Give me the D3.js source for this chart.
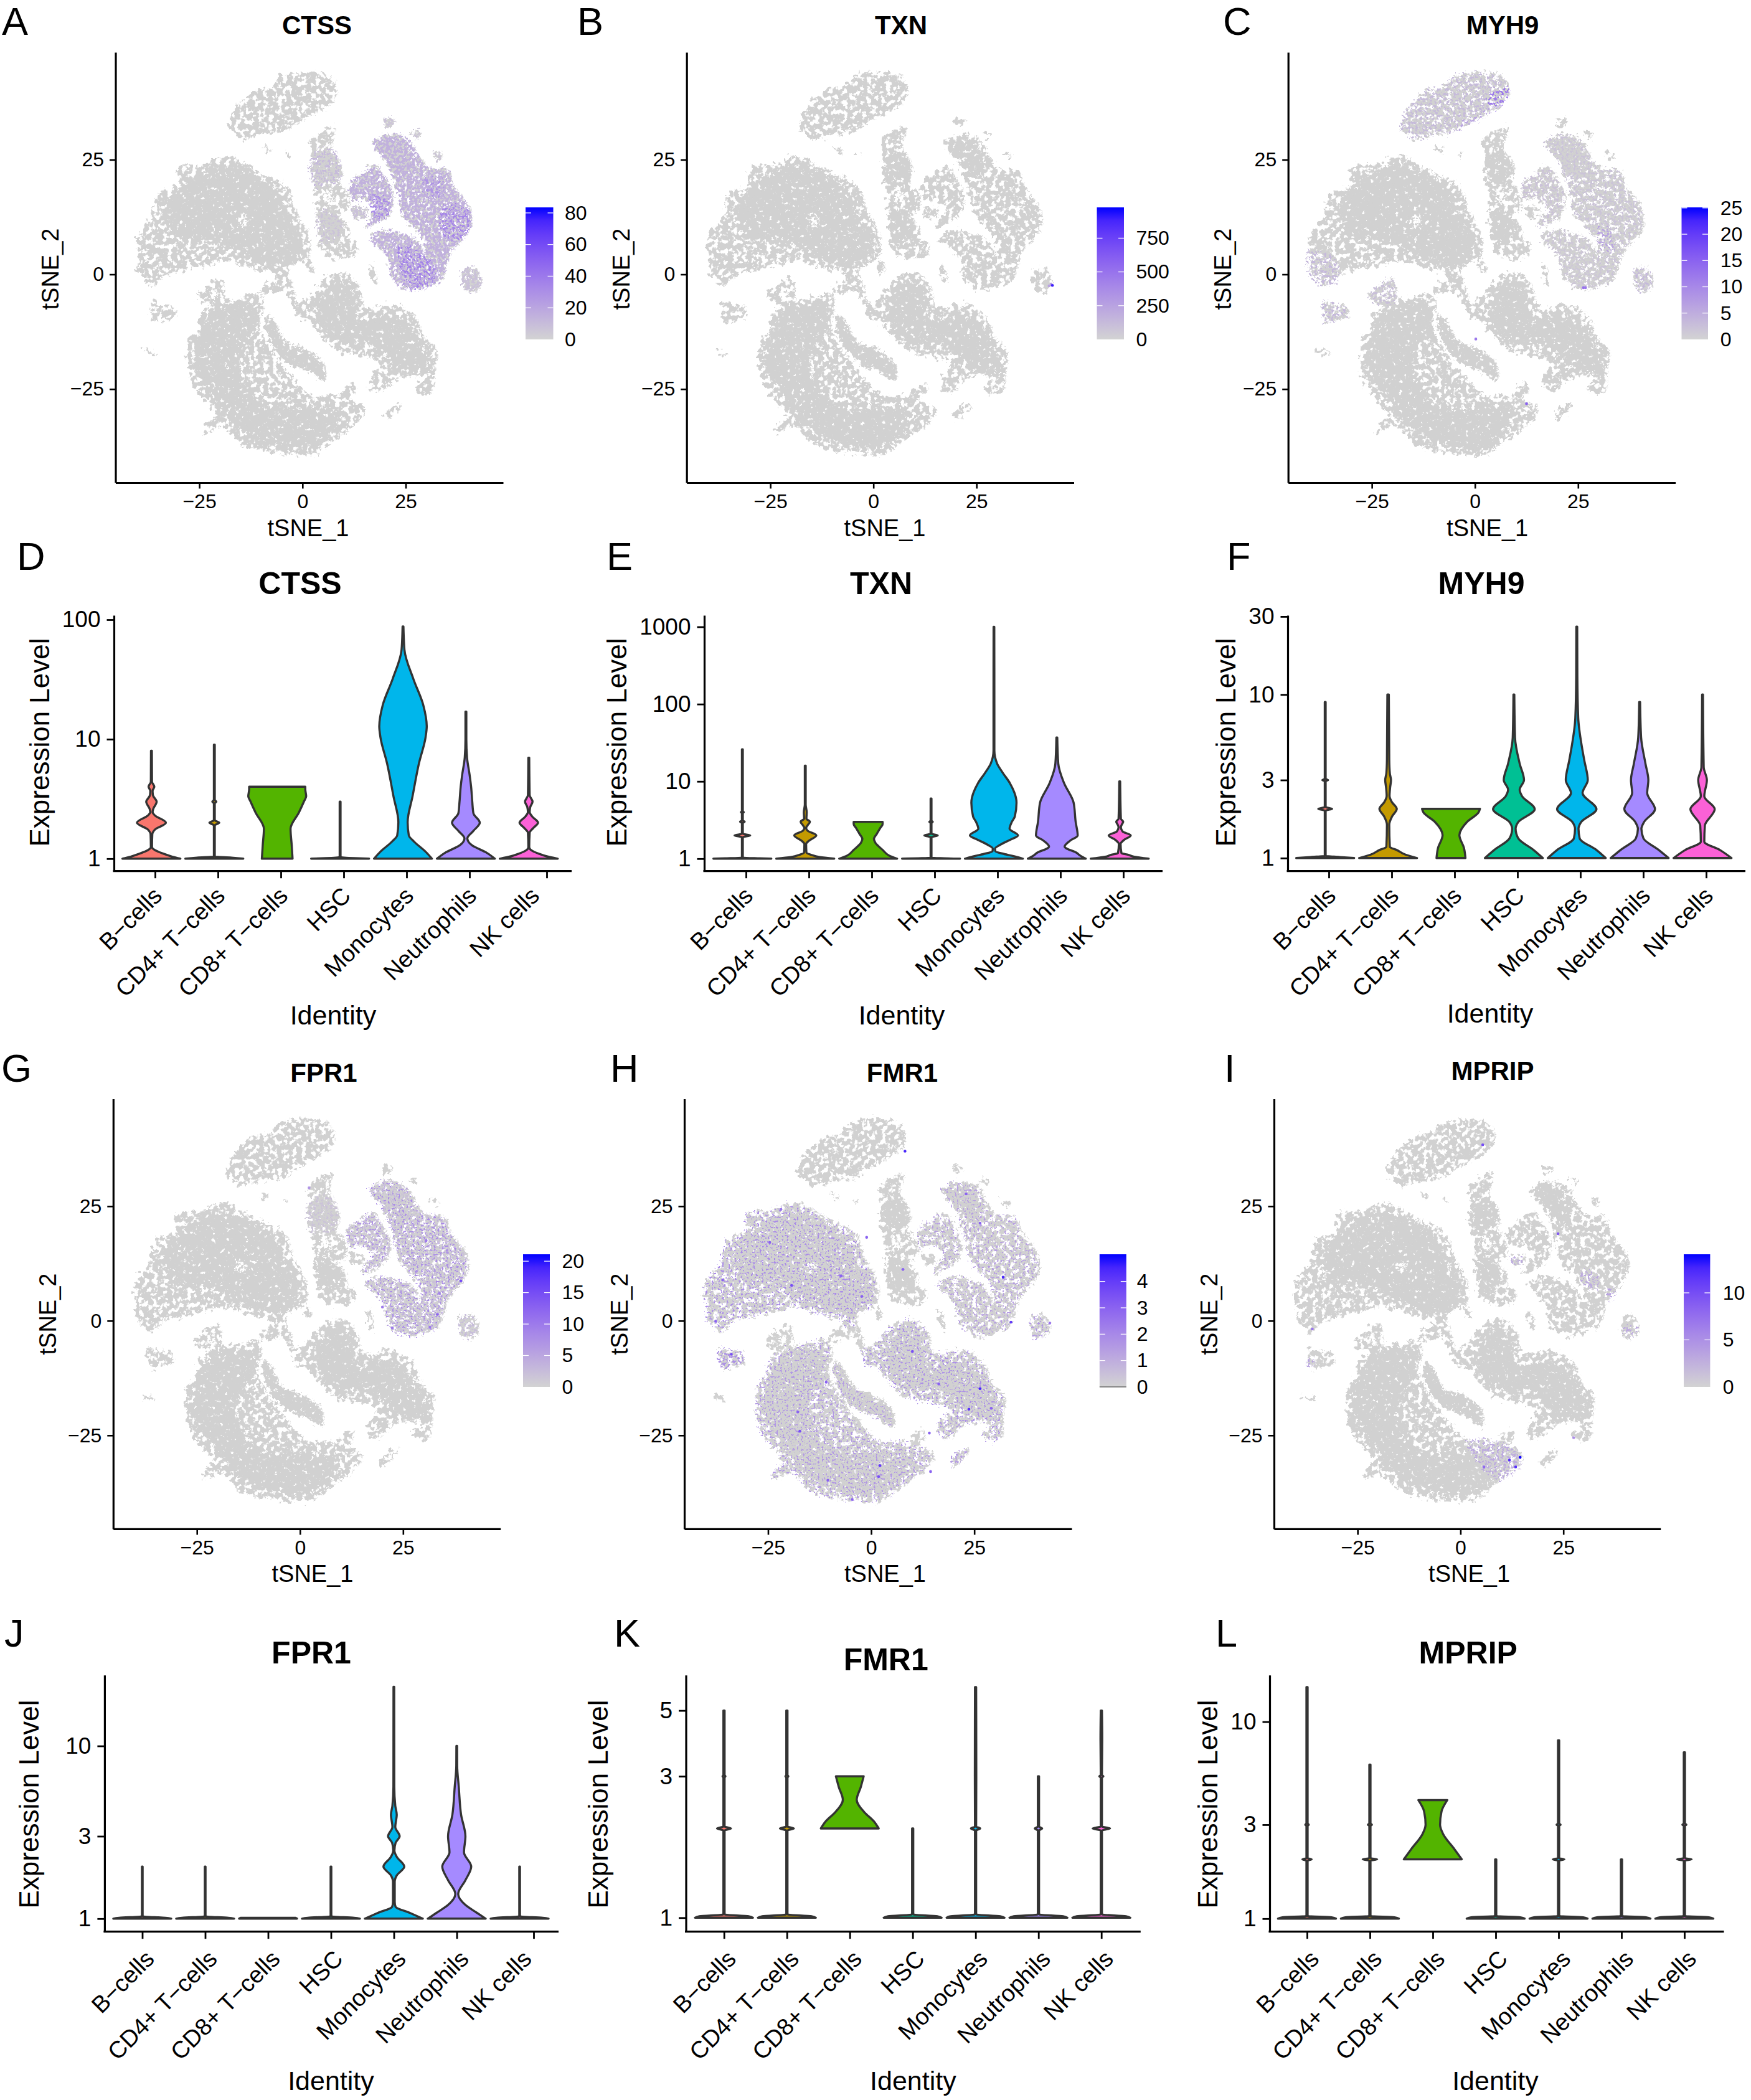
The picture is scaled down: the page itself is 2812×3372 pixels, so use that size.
<!DOCTYPE html>
<html>
<head>
<meta charset="utf-8">
<title>t-SNE and violin panels</title>
<script src="https://cdn.jsdelivr.net/npm/d3@7"></script>
<style>
  html, body { margin: 0; background: #fff; }
  svg { display: block; font-family: "Liberation Sans", Arial, sans-serif; }
</style>
</head>
<body>
<svg id="figure" width="2812" height="3372"></svg>
<script>
/* Categories and tick labels */
const identities = ['B\u2212cells', 'CD4+ T\u2212cells', 'CD8+ T\u2212cells', 'HSC', 'Monocytes', 'Neutrophils', 'NK cells'];
const identityColors = ['#F8766D', '#C49A00', '#53B400', '#00C094', '#00B6EB', '#A58AFF', '#FB61D7'];
const tsneTicks = [-25, 0, 25];

/* Cluster outlines, in tSNE units */
const topCluster = [[-17.8, 31.6], [-16.5, 35.4], [-14.6, 37.7], [-11, 40.2], [-7.4, 40.8], [-5.1, 43], [-0.1, 44], [5.4, 43.7], [8.1, 41.5], [8.4, 38.9], [5.4, 36.2], [-0.1, 33.5], [-3.7, 31.5], [-9.2, 30.5], [-14.6, 29.5], [-16.5, 31.2]];
const leftCluster = [[-40.3, 6.5], [-39.6, 8.8], [-36.5, 12.6], [-34.6, 17.9], [-30.1, 19.4], [-30.1, 23.2], [-23.7, 24], [-18.3, 25.9], [-14.6, 24.4], [-9.2, 21.7], [-5.1, 20.2], [-2.8, 17.9], [-1.5, 14.1], [0.8, 10.3], [2, 7.2], [1.3, 3.4], [-2.8, 1.9], [-3.7, -1.9], [-6, -1.1], [-7.4, 0.4], [-11, 1.1], [-18.3, 3], [-23.7, 1.9], [-29.2, 0.8], [-32.8, 0], [-36.5, -2.5], [-37.8, -1.1], [-39.6, 0.4], [-39.6, 3.4]];
const bottomCluster = [[-10.1, -4.2], [-9.2, -7.2], [-10.1, -11], [-7.4, -16.4], [-3.7, -21], [2.6, -26.3], [7.2, -26.3], [12.6, -27.8], [15.4, -29.3], [14.5, -31.3], [9, -35.4], [2.6, -39.3], [-1.9, -39.3], [-9.2, -38.5], [-14.6, -37], [-19.2, -33.2], [-23.7, -34.7], [-22.4, -32], [-21, -30.9], [-26.5, -24], [-27.6, -18.7], [-26.9, -13.3], [-25.1, -12.6], [-24.6, -8.8], [-21, -6.5], [-14.6, -5]];
const sliverCluster = [[-8.7, -9.1], [-7.4, -9.5], [-3.7, -14.9], [0.8, -16.4], [5.2, -19.5], [5.4, -22.9], [1.7, -21], [-2.8, -19.5], [-6.5, -16.4], [-8.7, -11.9]];
const lowerRightCluster = [[1.7, -4.9], [5.4, -1.1], [9.9, 0.4], [13.5, -1.9], [15.8, -7.2], [21.7, -6.5], [27.2, -8.8], [29.9, -14.1], [32.6, -16.4], [32.2, -21], [31.7, -25.5], [29.9, -26.3], [27.2, -24.8], [29.9, -22.5], [23.5, -22.5], [19, -25.5], [16.7, -25.1], [16.7, -22.5], [19, -19.5], [15.4, -18], [9, -16.8], [5.4, -14.1], [1.7, -10.3], [-1, -9.5], [-1.9, -7.2]];
const connectorA = [[-3.7, -0.4], [-2.4, -1.9], [-4.6, -3.4], [-7.4, -4.2], [-9.6, -4.2], [-9.2, -2.3], [-6, -1.1]];
const connectorB = [[-2.8, -1.9], [-1, -6.5], [0.8, -9.5], [-0.1, -9.9], [-2.8, -5.7], [-4.2, -2.7]];
const ringCluster = [[-25.5, -5], [-22.4, -1.9], [-19.6, -0.8], [-18.7, -5], [-19.2, -6.5], [-22.8, -6.5]];
const smallLeftCluster = [[-36.6, -6.1], [-34.2, -6.5], [-31, -7.2], [-30.5, -9.1], [-32.8, -9.9], [-36, -10.3], [-36.7, -8.4]];
const streakLeft = [[-38.3, -16.2], [-35.1, -17.1], [-35.1, -17.5], [-38.3, -16.8]];
const bitBottomRight = [[19.5, -30.9], [21.7, -28.6], [24, -28.2], [21.7, -30.9], [19.9, -31.5]];
const bitBottomMid = [[9.5, -26.3], [11.3, -24], [13.1, -23.9], [12.6, -26.3], [10.4, -27.1]];
const midCluster = [[2.2, 29.3], [8.1, 32.1], [7.2, 28.1], [9.9, 22.5], [9, 20.2], [11.3, 17.1], [11.3, 14.1], [9, 12.9], [11.3, 10.3], [11.8, 7.2], [13.5, 6.5], [13.1, 4.2], [9, 3.4], [5, 4.9], [4, 8.8], [3.5, 14.1], [3.5, 17.1], [2.2, 21.7], [2.6, 26.3]];
const rightBand = [[17.2, 28.6], [21.7, 30.5], [26.3, 29], [28.5, 25.5], [30.8, 23.2], [35.4, 22.5], [36.7, 19.4], [38.5, 17.1], [40.8, 14.1], [41, 10.7], [38.5, 7.2], [36.3, 5], [34.9, 1.1], [33.5, -1.5], [30.8, -1.9], [29.9, 3.4], [30, 6.5], [28, 9.5], [24.5, 13], [23, 18.7], [20.8, 24], [19, 26.3]];
const rightBlob = [[16.3, 8], [19.9, 9.6], [23.5, 9], [27, 8], [29.9, 4.2], [31.3, -1.9], [26.3, -3.3], [22.2, -1.1], [20.4, 4.2]];
const rightWing = [[11.9, 20.2], [14.5, 21.7], [17.6, 23.6], [20.8, 20.2], [22.2, 17.1], [21.3, 13.3], [18.1, 11.1], [15.4, 10.3], [16.7, 12.6], [18.1, 14.1], [15.4, 16.4], [12.2, 16.4]];
const rightBit = [[12.2, 14.5], [15.8, 14.1], [15.4, 12.4], [12.6, 12.6]];
const topBitA = [[19.9, 33.8], [22.6, 33.5], [21.3, 32], [20.1, 32.4]];
const topBitB = [[26.5, 30.9], [28.8, 31], [28.1, 29.7]];
const topBitC = [[31.7, 26.7], [34, 25.9], [33.1, 24.8]];
const farRightCluster = [[39, 0.8], [42.2, 1.1], [43.5, -2.3], [40.4, -4], [39.2, -2.7]];
const streakMid = [[16.3, 2.3], [17.2, 1.9], [18.1, -1.9], [17.2, -1.8]];
const crumbA = [[-9.5, 28], [-7.5, 27], [-8, 26.5], [-9.3, 27]];
const crumbB = [[-3.7, 26.7], [-2.8, 26], [-3.5, 25.6]];
const crumbC = [[1.8, 3], [3, 1.2], [2, 0.4], [1, 2]];

const allClusters = [topCluster, leftCluster, bottomCluster, sliverCluster, lowerRightCluster, connectorA, connectorB, ringCluster, smallLeftCluster, streakLeft, bitBottomRight, bitBottomMid, midCluster, rightBand, rightBlob, rightWing, rightBit, topBitA, topBitB, topBitC, farRightCluster, streakMid, crumbA, crumbB, crumbC];

/* Regions where the cells sit close together */
const coreLeft = [[-33, 15], [-28, 20], [-20, 23.5], [-12, 22], [-6, 18], [-3, 12], [0, 8], [-1, 3], [-6, 1.5], [-12, 3], [-18, 6], [-24, 8], [-30, 8]];
const coreBottom = [[-25, -13], [-22, -8], [-15, -6], [-11, -7], [-11, -12], [-15, -17], [-14, -24], [-8, -29], [0, -29], [8, -30], [8, -34], [1, -38], [-8, -37], [-15, -34], [-21, -27], [-26, -20]];
const coreLowerRight = [[4, -7], [8, -1.5], [12, -3], [14, -10], [20, -9], [26, -11], [30, -17], [31, -21], [25, -21], [17, -15], [10, -15], [5, -12]];
const coreMid = [[4, 26], [8, 26], [9, 22], [4, 20]];
const coreMidLow = [[4.5, 14], [9, 12.5], [9.5, 8], [5.5, 7]];
const coreRight = [[18, 28], [24, 29], [27, 24], [25, 21], [22, 24]];
const denseCores = [coreLeft, coreBottom, coreLowerRight, coreMid, coreMidLow, coreRight, sliverCluster];

const ringHole = [[-22.6, -4.5], [-21, -3], [-20.2, -4.5], [-21.5, -5.2]];
const midHole = [[6.2, 18.6], [7.8, 17], [7.2, 15.4], [5.6, 15.8], [5.4, 17.6]];
const leftGap = [[-15.6, 12], [-13.6, 12.8], [-13, 11], [-14.8, 10.6]];
const clusterHoles = [ringHole, midHole, leftGap];

/* Expression: [outline, level, density] patches and [x, y, level] cells */
const midUpper = [[2.6, 26], [8, 27], [10, 22], [9, 20], [3, 19.5]];
const midLower = [[4, 14], [9, 13], [10, 9], [5, 7]];
const ctssPatches = [
  [rightBand, 15, 'dense'], [rightBlob, 15, 'dense'], [rightWing, 15, 'dense'], [rightBit, 8, 'dense'], [topBitA, 7, 'dense'], [topBitB, 6, 'dense'], [topBitC, 6, 'dense'],
  [midUpper, 11, 'patchy'], [midLower, 7, 'patchy'], [farRightCluster, 8, 'dense'],
  [[[24, 6], [29, 5], [33, 1], [32, -2], [26, -3], [24, 1]], 36, 'patchy'],
  [[[34.5, 15], [40.5, 14], [41, 10], [38, 7], [34, 9]], 34, 'patchy'],
  [[[17, 17], [21.5, 16.5], [21, 12.6], [17.5, 12.6]], 32, 'patchy'],
  [[[30, 21], [34.5, 20.5], [34, 17], [30, 17.5]], 28, 'patchy']
];
const ctssCells = [];
const txnPatches = [];
const txnCells = [[43.1, -2.1, 300], [43.4, -2.4, 900], [42.6, -2.5, 250]];
const myh9Patches = [
  [topCluster, 3.2, 'patchy'],
  [[[3, 38], [8.4, 41], [8.4, 38.5], [5, 36]], 12, 'patchy'],
  [[[-4, 31.5], [5, 35.8], [5.2, 36.5], [-3, 33]], 6, 'patchy'],
  [[[-40, 5], [-33, 3], [-33, -2], [-37, -2.5], [-40, 0]], 3.5, 'patchy'],
  [smallLeftCluster, 3.5, 'patchy'], [rightBand, 2, 'patchy'], [rightBlob, 1.6, 'patchy'], [rightWing, 2.2, 'patchy'],
  [[[30, 10], [33, 10], [34, 5], [31, 6]], 6, 'patchy'], [farRightCluster, 3.5, 'patchy'], [ringCluster, 2.5, 'patchy']
];
const myh9Cells = [[26.3, -2.9, 13], [26.8, -2.9, 12], [0.2, -14.1, 12], [12.5, -28.2, 15]];
const fpr1Patches = [
  [rightBand, 2, 'patchy'], [rightBlob, 2, 'patchy'], [rightWing, 2, 'patchy'], [midUpper, 1.8, 'patchy'], [farRightCluster, 2.5, 'patchy'],
  [rightBand, 8, 'sparse'], [rightBlob, 8, 'sparse'], [rightWing, 7, 'sparse']
];
const fpr1Cells = [[39, 8.7, 15], [30.6, 17.5, 10], [33.3, 1.4, 12], [22.4, -1.6, 10], [20, 3, 10], [33.8, 6, 9], [2.2, 29, 7], [31.5, -1.4, 10]];
const fmr1Patches = [
  [leftCluster, 1.9, 'sparse'], [bottomCluster, 1.6, 'sparse'], [lowerRightCluster, 1.8, 'sparse'], [sliverCluster, 1.5, 'sparse'],
  [smallLeftCluster, 1.8, 'patchy'], [rightBand, 1.4, 'sparse'], [rightBlob, 1.4, 'sparse'], [rightWing, 1.4, 'sparse'], [farRightCluster, 1.6, 'sparse'], [bitBottomRight, 1.4, 'patchy']
];
const fmr1Cells = [[32, 9.5, 4.5], [23.7, -19.3, 4.2], [2.1, -31.6, 4], [-19.3, 7.7, 3.5], [33.9, -0.3, 4], [1.8, -34, 3.5], [-17.3, -24.1, 3.5], [-33.9, -7.3, 3.5], [14.4, -32.9, 3], [8.2, 37, 4.5], [-1.1, 18.2, 3], [10, -6.7, 3.5], [26.4, -14.8, 4.5], [14.1, -24.5, 3], [23, 27.7, 3], [26.4, 21.3, 3], [43.3, -0.5, 2.5], [7.7, 11.2, 3], [-37.7, -0.1, 3], [-36, 8.9, 3], [-21.9, 24.3, 2.5], [-10.9, -13.4, 3], [-17.8, -19.9, 3], [-10.5, -34.8, 3], [-4.6, -39, 3], [16.4, -13.8, 3], [29.1, -19.1, 3], [-7.3, 9.8, 3], [-24.6, 17.1, 3], [-2.3, 5.3, 3]];
const mpripPatches = [
  [[[1.8, -26.4], [11.9, -27.1], [15.4, -30.6], [10.1, -34.8], [5.7, -32.1]], 3, 'patchy'],
  [[[29.4, 10.6], [33.8, 9.8], [33.8, 6.8], [30.3, 7.9]], 3, 'patchy'],
  [[[36, 6.8], [38, 6.8], [37.3, 4.3], [36, 4.9]], 3.5, 'patchy'],
  [[[-36.9, -8.5], [-35.1, -8.5], [-35.1, -10], [-36.9, -10]], 3.5, 'patchy'],
  [[[40, -1.6], [43.7, -1.6], [42.6, -3.5], [40.4, -3.5]], 3, 'patchy'],
  [[[12.6, 13.6], [15.6, 13.6], [15.4, 12.3], [12.7, 12.3]], 3, 'patchy']
];
const mpripCells = [[14.5, -29.8, 14], [11.9, -30.4, 12], [13.4, -31.9, 12], [5.7, -31.9, 8], [5.4, 38.4, 10], [23.7, 19, 9], [-36, -1.8, 7], [27.5, -25.5, 5]];

/* Violin profiles: [expression level, relative half width], one list per identity */
const ctssViolins = [
  [[1, 1], [1.04, 0.72], [1.1, 0.42], [1.18, 0.12], [1.25, 0.02], [1.6, 0.03], [1.75, 0.12], [2, 0.5], [2.3, 0.12], [2.45, 0.04], [2.6, 0.06], [3, 0.18], [3.4, 0.05], [3.7, 0.04], [4, 0.1], [4.4, 0.02], [8, 0.015]],
  [[1, 1], [1.02, 0.6], [1.04, 0.015], [1.9, 0.015], [2, 0.17], [2.1, 0.015], [2.9, 0.015], [3, 0.07], [3.1, 0.015], [9, 0.015]],
  [[1, 0.53], [1.3, 0.5], [1.78, 0.46], [2.44, 0.75], [3, 0.92], [3.33, 1], [3.8, 0.97], [4, 0.97]],
  [[1, 1], [1.01, 0.5], [1.03, 0.015], [2, 0.015], [3, 0.015]],
  [[1, 1], [1.15, 0.77], [1.39, 0.38], [1.57, 0.2], [2.02, 0.16], [3.33, 0.33], [6.26, 0.55], [10.4, 0.78], [12.8, 0.82], [19.3, 0.7], [31.8, 0.36], [56, 0.05], [87.6, 0.015]],
  [[1, 1], [1.12, 0.72], [1.3, 0.2], [1.48, 0.05], [1.7, 0.25], [2, 0.48], [2.4, 0.26], [3, 0.22], [4, 0.18], [5, 0.13], [7, 0.04], [10, 0.015], [17, 0.015]],
  [[1, 1], [1.05, 0.6], [1.1, 0.35], [1.18, 0.08], [1.25, 0.015], [1.65, 0.03], [1.8, 0.15], [2, 0.32], [2.25, 0.12], [2.45, 0.03], [2.7, 0.05], [3, 0.13], [3.4, 0.03], [7, 0.015]]
];
const txnViolins = [
  [[1, 1], [1.01, 0.6], [1.03, 0.015], [1.9, 0.015], [2, 0.27], [2.1, 0.015], [2.9, 0.015], [3, 0.08], [3.1, 0.015], [3.9, 0.015], [4, 0.05], [4.1, 0.015], [26, 0.015]],
  [[1, 1], [1.05, 0.5], [1.12, 0.2], [1.2, 0.04], [1.55, 0.03], [1.7, 0.12], [2, 0.38], [2.3, 0.08], [2.5, 0.03], [2.7, 0.08], [3, 0.16], [3.3, 0.04], [4, 0.05], [5, 0.015], [16, 0.015]],
  [[1, 1], [1.1, 0.72], [1.3, 0.5], [1.6, 0.25], [1.8, 0.2], [2.1, 0.3], [2.5, 0.42], [2.8, 0.5], [3, 0.5]],
  [[1, 1], [1.03, 0.015], [1.9, 0.015], [2, 0.23], [2.1, 0.015], [2.9, 0.015], [3, 0.06], [3.1, 0.015], [6, 0.015]],
  [[1, 1], [1.07, 0.72], [1.15, 0.35], [1.25, 0.05], [1.35, 0.04], [1.5, 0.2], [1.75, 0.55], [2, 0.83], [2.44, 0.54], [3, 0.62], [3.5, 0.72], [5.3, 0.78], [9.5, 0.55], [13, 0.3], [17, 0.11], [25, 0.015], [100, 0.015], [1000, 0.012]],
  [[1, 1], [1.1, 0.8], [1.18, 0.7], [1.43, 0.27], [1.7, 0.45], [2, 0.72], [3, 0.65], [5.3, 0.58], [9.5, 0.25], [17, 0.05], [37, 0.015]],
  [[1, 1], [1.06, 0.5], [1.12, 0.3], [1.18, 0.06], [1.55, 0.03], [1.75, 0.15], [2, 0.38], [2.25, 0.1], [2.55, 0.04], [2.8, 0.08], [3, 0.12], [3.3, 0.04], [10, 0.015]]
];
const myh9Violins = [
  [[1, 1], [1.015, 0.5], [1.03, 0.015], [1.95, 0.015], [2, 0.24], [2.05, 0.015], [2.95, 0.015], [3, 0.1], [3.05, 0.015], [9, 0.015]],
  [[1, 1], [1.05, 0.6], [1.12, 0.3], [1.17, 0.06], [1.6, 0.04], [1.8, 0.14], [2, 0.3], [2.2, 0.13], [2.4, 0.05], [2.7, 0.07], [3, 0.1], [3.3, 0.06], [4, 0.04], [10, 0.025]],
  [[1, 0.5], [1.15, 0.45], [1.38, 0.29], [1.66, 0.55], [1.9, 0.95], [2, 1]],
  [[1, 1], [1.12, 0.68], [1.32, 0.15], [1.51, 0.06], [1.66, 0.15], [1.99, 0.72], [2.39, 0.28], [2.62, 0.2], [3, 0.35], [3.78, 0.2], [5.46, 0.04], [10, 0.015]],
  [[1, 1], [1.12, 0.68], [1.32, 0.1], [1.51, 0.06], [1.66, 0.15], [1.99, 0.68], [2.5, 0.2], [3, 0.38], [3.96, 0.26], [4.75, 0.18], [7.2, 0.05], [13, 0.02], [26, 0.015]],
  [[1, 1], [1.12, 0.66], [1.32, 0.13], [1.51, 0.06], [1.66, 0.15], [1.99, 0.53], [2.5, 0.26], [3, 0.3], [3.78, 0.2], [5.46, 0.05], [9, 0.015]],
  [[1, 1], [1.12, 0.6], [1.26, 0.06], [1.58, 0.08], [1.99, 0.42], [2.39, 0.06], [3, 0.15], [3.6, 0.04], [10, 0.015]]
];
const fpr1Violins = [
  [[1, 1], [1.012, 0.8], [1.03, 0.012], [2, 0.012]],
  [[1, 1], [1.012, 0.8], [1.03, 0.012], [2, 0.012]],
  [[1, 1], [1.012, 0.95]],
  [[1, 1], [1.012, 0.8], [1.03, 0.012], [2, 0.012]],
  [[1, 1], [1.08, 0.55], [1.17, 0.06], [1.25, 0.03], [1.64, 0.03], [1.78, 0.1], [2, 0.36], [2.28, 0.1], [2.48, 0.02], [2.75, 0.06], [3, 0.2], [3.4, 0.05], [4, 0.1], [4.5, 0.05], [5.8, 0.015], [22, 0.012]],
  [[1, 1], [1.08, 0.7], [1.2, 0.3], [1.39, 0.05], [1.67, 0.3], [2, 0.5], [2.42, 0.25], [3, 0.3], [4, 0.15], [5.8, 0.07], [7.7, 0.015], [10, 0.012]],
  [[1, 1], [1.012, 0.8], [1.03, 0.012], [2, 0.012]]
];
const fmr1Violins = [
  [[1, 1], [1.012, 0.85], [1.025, 0.02], [1.97, 0.02], [2, 0.24], [2.03, 0.02], [2.97, 0.02], [3, 0.05], [3.03, 0.02], [5, 0.02]],
  [[1, 1], [1.012, 0.85], [1.025, 0.02], [1.97, 0.02], [2, 0.24], [2.03, 0.02], [2.97, 0.02], [3, 0.05], [3.03, 0.02], [5, 0.02]],
  [[2, 1], [2.12, 0.82], [2.27, 0.5], [2.5, 0.24], [2.76, 0.38], [3, 0.48]],
  [[1, 1], [1.012, 0.85], [1.025, 0.02], [2, 0.02]],
  [[1, 1], [1.012, 0.85], [1.025, 0.02], [1.97, 0.02], [2, 0.16], [2.03, 0.02], [3, 0.025], [6, 0.02]],
  [[1, 1], [1.012, 0.85], [1.025, 0.02], [1.97, 0.02], [2, 0.13], [2.03, 0.02], [3, 0.02]],
  [[1, 1], [1.012, 0.85], [1.025, 0.02], [1.97, 0.02], [2, 0.3], [2.03, 0.02], [2.97, 0.02], [3, 0.07], [3.03, 0.02], [4, 0.03], [5, 0.02]]
];
const mpripViolins = [
  [[1, 1], [1.015, 0.85], [1.03, 0.02], [1.97, 0.02], [2, 0.16], [2.03, 0.02], [2.96, 0.02], [3, 0.06], [3.04, 0.02], [15, 0.02]],
  [[1, 1], [1.015, 0.85], [1.03, 0.02], [1.97, 0.02], [2, 0.25], [2.03, 0.02], [2.96, 0.02], [3, 0.07], [3.04, 0.02], [6.06, 0.02]],
  [[2, 1], [2.25, 0.75], [2.7, 0.35], [3, 0.25], [3.5, 0.3], [4, 0.5]],
  [[1, 1], [1.015, 0.85], [1.03, 0.02], [2, 0.02]],
  [[1, 1], [1.015, 0.85], [1.03, 0.02], [1.97, 0.02], [2, 0.2], [2.03, 0.02], [2.96, 0.02], [3, 0.07], [3.04, 0.02], [8.05, 0.02]],
  [[1, 1], [1.015, 0.85], [1.03, 0.02], [2, 0.02]],
  [[1, 1], [1.015, 0.85], [1.03, 0.02], [1.97, 0.02], [2, 0.25], [2.03, 0.02], [2.96, 0.02], [3, 0.07], [3.04, 0.02], [7, 0.02]]
];

/* Local constants */
const X_LIMITS = [-45.3, 48.6];
const Y_LIMITS = [-45.4, 48.4];
const VIOLIN_HALF_WIDTH = 46.5;
const INK = '#333333';
const CLOUD_GREY = '#D1D1D1';

const svg = d3.select('#figure');
const colorAt = d3.interpolateLab('#D3D3D3', '#0000FF');
const minus = (d) => String(d).replace('-', '\u2212');

/**
 * Adds the filters that give the clouds their speckled, point-like texture.
 *
 * @param {string} id - The filter id.
 * @param {number} frequency - The noise frequency.
 * @param {number} gain - The alpha gain on the noise.
 * @param {number} offset - The alpha offset, lower leaves fewer pixels.
 * @param {number} seed - The noise seed.
 */
function addSpeckleFilter (id, frequency, gain, offset, seed) {
  const filter = svg.select('defs').append('filter')
    .attr('id', id)
    .attr('x', '-3%').attr('y', '-3%')
    .attr('width', '106%').attr('height', '106%')
    .attr('color-interpolation-filters', 'sRGB');
  filter.append('feTurbulence')
    .attr('type', 'fractalNoise')
    .attr('baseFrequency', frequency)
    .attr('numOctaves', 3)
    .attr('seed', seed)
    .attr('result', 'noise');
  filter.append('feDisplacementMap')
    .attr('in', 'SourceGraphic')
    .attr('in2', 'noise')
    .attr('scale', 22)
    .attr('xChannelSelector', 'R')
    .attr('yChannelSelector', 'G')
    .attr('result', 'rough');
  filter.append('feColorMatrix')
    .attr('in', 'noise')
    .attr('type', 'matrix')
    .attr('values', `0 0 0 0 0  0 0 0 0 0  0 0 0 0 0  ${gain} 0 0 0 ${offset}`)
    .attr('result', 'mask');
  filter.append('feComposite')
    .attr('in', 'rough')
    .attr('in2', 'mask')
    .attr('operator', 'in');
}

svg.append('rect').attr('width', 2812).attr('height', 3372).attr('fill', '#fff');
svg.append('defs');
addSpeckleFilter('porous', 0.13, 12, -4.7, 4);
addSpeckleFilter('core', 0.17, 12, -3.9, 31);
addSpeckleFilter('dense', 0.24, 12, -5, 9);
addSpeckleFilter('patchy', 0.26, 12, -6.2, 15);
addSpeckleFilter('sparse', 0.3, 14, -8.4, 23);

/**
 * Draws a panel letter.
 *
 * @param {string} letter - The letter.
 * @param {number} x - Left position.
 * @param {number} y - Baseline.
 */
function drawLetter (letter, x, y) {
  svg.append('text').attr('x', x).attr('y', y)
    .attr('font-size', 63).attr('fill', '#000').text(letter);
}

/**
 * Draws a rotated y axis title and a horizontal x axis title.
 */
function drawAxisTitles (text, xx, xy, yText, yx, yy, size) {
  svg.append('text').attr('x', xx).attr('y', xy)
    .attr('text-anchor', 'middle').attr('font-size', size).text(text);
  svg.append('text').attr('transform', `translate(${yx},${yy}) rotate(-90)`)
    .attr('text-anchor', 'middle').attr('font-size', yText === 'tSNE_2' ? size : 44).text(yText);
}

/**
 * Applies the shared axis text look, d3 sets its own font on the axis group.
 *
 * @param {*} axis - The axis selection.
 * @param {number} size - The font size.
 */
function styleAxisText (axis, size) {
  axis.attr('font-family', null).attr('font-size', null);
  axis.selectAll('text').attr('font-size', size).attr('fill', '#000');
}

/**
 * Draws the colour bar of a feature plot.
 *
 * @param {object} p - The panel description.
 * @param {Function} fill - Colour for a level.
 */
function drawColorBar (p, fill) {
  const id = `bar-${p.gene}`;
  const gradient = svg.select('defs').append('linearGradient')
    .attr('id', id).attr('x1', 0).attr('x2', 0).attr('y1', 1).attr('y2', 0);
  d3.range(0, 11).forEach((i) => {
    gradient.append('stop').attr('offset', i / 10).attr('stop-color', fill(p.max * i / 10));
  });
  const scale = d3.scaleLinear().domain([0, p.max]).range([p.barBottom, p.barTop]);
  svg.append('rect')
    .attr('x', p.barX).attr('y', p.barTop)
    .attr('width', p.barWidth).attr('height', p.barBottom - p.barTop)
    .attr('fill', `url(#${id})`);
  const marks = svg.append('g');
  p.barTicks.forEach((t) => {
    [[p.barX, p.barX + 9], [p.barX + p.barWidth - 9, p.barX + p.barWidth]].forEach(([a, b]) => {
      marks.append('line')
        .attr('x1', a).attr('x2', b).attr('y1', scale(t)).attr('y2', scale(t))
        .attr('stroke', t === 0 ? 'none' : '#fff').attr('stroke-width', 1.2);
    });
  });
  if (p.barBaseLine) {
    marks.append('line')
      .attr('x1', p.barX).attr('x2', p.barX + p.barWidth)
      .attr('y1', scale(0)).attr('y2', scale(0))
      .attr('stroke', '#333').attr('stroke-width', 1.2);
  }
  const axis = svg.append('g')
    .attr('transform', `translate(${p.barLabelX},0)`)
    .call(d3.axisRight(scale).tickValues(p.barTicks).tickFormat(d3.format('d')).tickSize(0).tickPadding(0));
  axis.select('.domain').remove();
  styleAxisText(axis, 32);
}

/**
 * Draws one t-SNE feature plot.
 *
 * @param {object} p - The panel description.
 */
function drawFeaturePlot (p) {
  const x = d3.scaleLinear().domain(X_LIMITS).range([p.left, p.right]);
  const y = d3.scaleLinear().domain(Y_LIMITS).range([p.bottom, p.top]);
  const outline = d3.line()
    .x((d) => x(d[0]))
    .y((d) => y(d[1]))
    .curve(d3.curveCatmullRomClosed.alpha(0.5));
  const level = d3.scaleLinear().domain([0, p.max]).range([0, 1]).clamp(true);
  const fill = (v) => colorAt(level(v));

  svg.append('g').attr('filter', 'url(#porous)')
    .selectAll('path')
    .data(allClusters)
    .join('path')
    .attr('d', outline)
    .attr('fill', CLOUD_GREY);

  svg.append('g').attr('filter', 'url(#core)')
    .selectAll('path')
    .data(denseCores)
    .join('path')
    .attr('d', outline)
    .attr('fill', CLOUD_GREY);

  svg.append('g').attr('filter', 'url(#dense)')
    .selectAll('path')
    .data(clusterHoles)
    .join('path')
    .attr('d', outline)
    .attr('fill', '#fff');

  ['dense', 'patchy', 'sparse'].forEach((density) => {
    svg.append('g').attr('filter', `url(#${density})`)
      .selectAll('path')
      .data(p.patches.filter((d) => d[2] === density))
      .join('path')
      .attr('d', (d) => outline(d[0]))
      .attr('fill', (d) => fill(d[1]));
  });

  svg.append('g')
    .selectAll('circle')
    .data(p.cells)
    .join('circle')
    .attr('cx', (d) => x(d[0]))
    .attr('cy', (d) => y(d[1]))
    .attr('r', 2.3)
    .attr('fill', (d) => fill(d[2]));

  const xAxis = svg.append('g')
    .attr('transform', `translate(0,${p.bottom})`)
    .call(d3.axisBottom(x).tickValues(tsneTicks).tickFormat(minus).tickSize(9.5).tickPadding(9).tickSizeOuter(0));
  const yAxis = svg.append('g')
    .attr('transform', `translate(${p.left},0)`)
    .call(d3.axisLeft(y).tickValues(tsneTicks).tickFormat(minus).tickSize(9.5).tickPadding(9).tickSizeOuter(0));
  [xAxis, yAxis].forEach((axis) => {
    axis.select('.domain').attr('stroke', '#000').attr('stroke-width', 3.2);
    axis.selectAll('line').attr('stroke', '#000').attr('stroke-width', 2.6);
    styleAxisText(axis, 32);
  });

  svg.append('text').attr('x', p.titleX).attr('y', p.titleY)
    .attr('text-anchor', 'middle').attr('font-size', 42).attr('font-weight', 'bold').text(p.gene);
  drawAxisTitles('tSNE_1', p.xLabelX, p.xLabelY, 'tSNE_2', p.left - 91.5, p.yLabelY, 38);
  drawColorBar(p, fill);
  drawLetter(p.letter, p.letterX, p.letterY);
}

/**
 * Draws one violin plot on a log scaled y axis.
 *
 * @param {object} p - The panel description.
 */
function drawViolinPlot (p) {
  const x = d3.scalePoint().domain(identities).range([p.firstTick, p.firstTick + 6 * 101]);
  const y = d3.scaleLog().domain(p.yDomain).range([p.bottom, p.top]);
  const width = d3.scaleLinear().domain([0, 1]).range([0, VIOLIN_HALF_WIDTH]);

  svg.append('g')
    .selectAll('path')
    .data(p.violins)
    .join('path')
    .attr('d', (profile, i) => {
      const center = x(identities[i]) + p.violinShift;
      return d3.area()
        .x0((d) => center - width(d[1]))
        .x1((d) => center + width(d[1]))
        .y((d) => y(d[0]))
        .curve(d3.curveMonotoneY)(profile);
    })
    .attr('fill', (d, i) => identityColors[i])
    .attr('stroke', INK)
    .attr('stroke-width', 3.4)
    .attr('stroke-linejoin', 'round');

  const xAxis = svg.append('g')
    .attr('transform', `translate(0,${p.bottom})`)
    .call(d3.axisBottom(x).tickSize(11.5).tickSizeOuter(0));
  xAxis.select('.domain').remove();
  xAxis.selectAll('line').attr('stroke', '#000').attr('stroke-width', 2.8);
  xAxis.selectAll('.tick')
    .filter((d) => d === 'NK cells')
    .select('line')
    .attr('x1', p.lastTickShift)
    .attr('x2', p.lastTickShift);
  styleAxisText(xAxis, 38);
  xAxis.selectAll('text')
    .attr('text-anchor', 'end')
    .attr('x', 0).attr('y', 0).attr('dy', 0)
    .attr('transform', `translate(${p.labelDx},${p.labelDy}) rotate(-45)`);
  svg.append('line')
    .attr('x1', p.left - 1.5).attr('x2', p.right)
    .attr('y1', p.bottom).attr('y2', p.bottom)
    .attr('stroke', '#000').attr('stroke-width', 3.2);

  const yAxis = svg.append('g')
    .attr('transform', `translate(${p.left},0)`)
    .call(d3.axisLeft(y).tickValues(p.yTicks).tickFormat(d3.format('d')).tickSize(11.5).tickPadding(10).tickSizeOuter(0));
  yAxis.select('.domain').attr('stroke', '#000').attr('stroke-width', 3.2);
  yAxis.selectAll('line').attr('stroke', '#000').attr('stroke-width', 2.8);
  styleAxisText(yAxis, 37);

  svg.append('text').attr('x', p.titleX).attr('y', p.titleY)
    .attr('text-anchor', 'middle').attr('font-size', 50).attr('font-weight', 'bold').text(p.gene);
  drawAxisTitles('Identity', p.xLabelX, p.xLabelY, 'Expression Level', p.yLabelX, p.yLabelY, 43);
  drawLetter(p.letter, p.letterX, p.letterY);
}

/**
 * Finds the log domain for a plot from the position of 1 and the length of a decade.
 *
 * @returns {number[]} The [bottom, top] values of the axis.
 */
function logDomain (bottom, top, oneAt, pxPerDecade) {
  return [10 ** ((oneAt - bottom) / pxPerDecade), 10 ** ((oneAt - top) / pxPerDecade)];
}

const rowOne = { top: 84, bottom: 775, titleY: 55, letterY: 56, yLabelY: 432, xLabelY: 861, barTop: 333, barBottom: 545 };
const rowThree = { top: 1764.6, bottom: 2454.9, letterY: 1737, yLabelY: 2110, xLabelY: 2540, barTop: 2014, barBottom: 2227 };

drawFeaturePlot({ ...rowOne, gene: 'CTSS', letter: 'A', letterX: 3, left: 185.5, right: 808, titleX: 509, xLabelX: 495, patches: ctssPatches, cells: ctssCells, max: 83.5, barTicks: [0, 20, 40, 60, 80], barX: 844, barWidth: 44.5, barLabelX: 907 });
drawFeaturePlot({ ...rowOne, gene: 'TXN', letter: 'B', letterX: 927, left: 1102.7, right: 1724.5, titleX: 1447, xLabelX: 1421, patches: txnPatches, cells: txnCells, max: 978, barTicks: [0, 250, 500, 750], barX: 1761.5, barWidth: 43.5, barLabelX: 1824.5 });
drawFeaturePlot({ ...rowOne, gene: 'MYH9', letter: 'C', letterX: 1964, left: 2068.7, right: 2690.6, titleX: 2413, xLabelX: 2388.7, patches: myh9Patches, cells: myh9Cells, max: 25.1, barTicks: [0, 5, 10, 15, 20, 25], barX: 2700.5, barWidth: 42.5, barLabelX: 2762.7 });
drawFeaturePlot({ ...rowThree, gene: 'FPR1', letter: 'G', letterX: 2, left: 181.8, right: 803.6, titleX: 520, titleY: 1737, xLabelX: 502, patches: fpr1Patches, cells: fpr1Cells, max: 21.1, barTicks: [0, 5, 10, 15, 20], barX: 840, barWidth: 43, barLabelX: 902.4 });
drawFeaturePlot({ ...rowThree, gene: 'FMR1', letter: 'H', letterX: 980, left: 1099, right: 1721, titleX: 1449, titleY: 1737, xLabelX: 1421.5, patches: fmr1Patches, cells: fmr1Cells, max: 5.03, barTicks: [0, 1, 2, 3, 4], barX: 1765.8, barWidth: 43, barLabelX: 1825.8, barBaseLine: true });
drawFeaturePlot({ ...rowThree, gene: 'MPRIP', letter: 'I', letterX: 1966, left: 2046, right: 2666.7, titleX: 2397, titleY: 1734, xLabelX: 2359.6, patches: mpripPatches, cells: mpripCells, max: 14.1, barTicks: [0, 5, 10], barX: 2704, barWidth: 42.4, barLabelX: 2766.8 });

const rowTwo = { top: 988, bottom: 1398.7, titleY: 954, letterY: 915, yLabelY: 1192, xLabelY: 1644.5, violinShift: -5.8, labelDx: 13, labelDy: 42 };
const rowFour = { top: 2689.8, bottom: 3101.7, letterY: 2644, yLabelY: 2897, xLabelY: 3355.6, violinShift: 0, labelDx: 21, labelDy: 46 };

drawViolinPlot({ ...rowTwo, gene: 'CTSS', letter: 'D', letterX: 27, left: 183, right: 918, firstTick: 249, lastTickShift: 23, titleX: 482, xLabelX: 535, yLabelX: 78.8, violins: ctssViolins, yTicks: [1, 10, 100], yDomain: logDomain(1398.7, 988, 1378.8, 191.9) });
drawViolinPlot({ ...rowTwo, gene: 'TXN', letter: 'E', letterX: 974, left: 1131, right: 1867, firstTick: 1198, lastTickShift: 0, titleX: 1415, xLabelX: 1448, yLabelX: 1005.8, violins: txnViolins, yTicks: [1, 10, 100, 1000], yDomain: logDomain(1398.7, 988, 1378.8, 124.1) });
drawViolinPlot({ ...rowTwo, gene: 'MYH9', letter: 'F', letterX: 1970, left: 2068, right: 2803, firstTick: 2134, lastTickShift: 0, titleX: 2379, xLabelX: 2393, xLabelY: 1642, yLabelX: 1984.4, violins: myh9Violins, yTicks: [1, 3, 10, 30], yDomain: logDomain(1398.7, 988, 1377.8, 262.6) });
drawViolinPlot({ ...rowFour, gene: 'FPR1', letter: 'J', letterX: 7, left: 167.9, right: 897, firstTick: 228.5, lastTickShift: 22.5, titleX: 500, titleY: 2670.8, xLabelX: 531.5, yLabelX: 62.4, violins: fpr1Violins, yTicks: [1, 3, 10], yDomain: logDomain(3101.7, 2689.8, 3080.8, 277.3) });
drawViolinPlot({ ...rowFour, gene: 'FMR1', letter: 'K', letterX: 986, left: 1101.5, right: 1831.8, firstTick: 1162.7, lastTickShift: 0, titleX: 1422.7, titleY: 2682.3, xLabelX: 1466.4, yLabelX: 976, violins: fmr1Violins, yTicks: [1, 3, 5], yDomain: logDomain(3101.7, 2689.8, 3079.3, 476) });
drawViolinPlot({ ...rowFour, gene: 'MPRIP', letter: 'L', letterX: 1952, left: 2039, right: 2768.5, firstTick: 2099, lastTickShift: 0, titleX: 2357.8, titleY: 2670.8, xLabelX: 2401.5, yLabelX: 1955.3, violins: mpripViolins, yTicks: [1, 3, 10], yDomain: logDomain(3101.7, 2689.8, 3080.8, 316.2) });
</script>
</body>
</html>
